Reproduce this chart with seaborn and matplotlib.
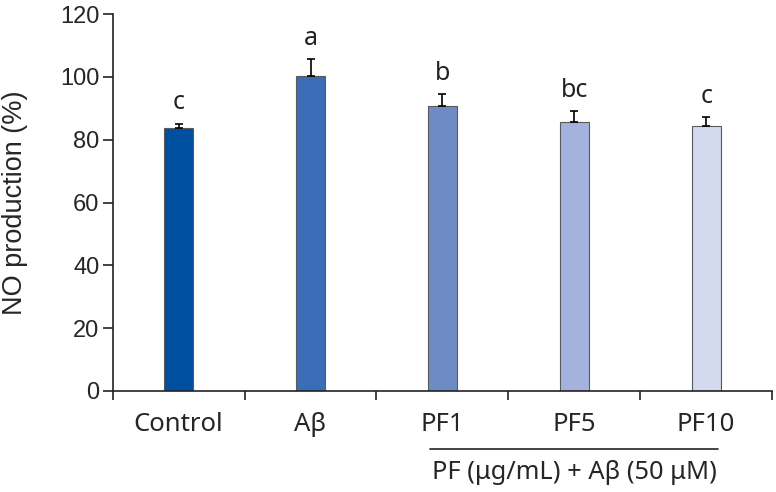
import matplotlib
matplotlib.use("Agg")
import matplotlib.pyplot as plt
import numpy as np
import pandas as pd
import seaborn as sns

# --------------------------------------------------------------------------- #
# Data
# --------------------------------------------------------------------------- #
groups = ["Control", "Aβ", "PF1", "PF5", "PF10"]
no_production = [83.8, 100.3, 90.7, 85.6, 84.4]
sem = [1.3, 5.3, 3.8, 3.4, 2.9]
letters = ["c", "a", "b", "bc", "c"]
bar_colors = ["#0050A0", "#3B6DB6", "#6E8BC6", "#A4B3DE", "#D3D9EE"]
y_ticks = [0, 20, 40, 60, 80, 100, 120]
group_label = "PF (μg/mL) + Aβ (50 μM)"

df = pd.DataFrame({"group": groups, "value": no_production})

# --------------------------------------------------------------------------- #
# Plot
# --------------------------------------------------------------------------- #
sns.set_style("ticks")
plt.rcParams["font.family"] = ["Liberation Sans", "DejaVu Sans"]
LABEL_FONT = ["Noto Sans", "DejaVu Sans"]
INK = "#222222"

fig = plt.figure(figsize=(7.76, 4.92), dpi=100)
ax = fig.add_axes([0.1452, 0.2053, 0.8498, 0.7662])

sns.barplot(
    data=df, x="group", y="value", hue="group", palette=bar_colors,
    saturation=1, width=0.22, edgecolor="#5a5a5a", linewidth=0.8,
    legend=False, ax=ax,
)

# upper-only error bars
x = np.arange(len(groups))
ax.errorbar(
    x, no_production, yerr=[np.zeros(len(sem)), sem], fmt="none",
    ecolor="black", elinewidth=1.2, capsize=2.8, capthick=1.2, zorder=3,
)

# significance letters
for xi, v, e, lab in zip(x, no_production, sem, letters):
    ax.text(xi, v + e + 2.6, lab, ha="center", va="bottom", fontsize=18,
            family=LABEL_FONT, color=INK)

ax.set_ylim(0, 120)
ax.set_yticks(y_ticks)
ax.set_xlim(-0.5, len(groups) - 0.5)
ax.set_ylabel("NO production (%)", fontsize=19.5)
ax.yaxis.set_label_coords(-0.1285, 0.5)
ax.set_xlabel("")

# category labels without tick marks, boundary ticks as minor ticks
ax.set_xticks(x)
ax.set_xticklabels(groups, family=LABEL_FONT, fontsize=18.5)
ax.tick_params(axis="x", which="major", length=0, pad=15)
ax.set_xticks(np.arange(-0.5, len(groups)), minor=True)
ax.tick_params(axis="x", which="minor", length=6.5, width=1.2, color=INK)
ax.tick_params(axis="y", labelsize=17, length=7.5, width=1.2, color=INK,
               pad=2)

sns.despine(ax=ax)
for side in ["left", "bottom"]:
    ax.spines[side].set_linewidth(1.2)
    ax.spines[side].set_color(INK)

# bracket line and group label under the PF bars
ax.plot([1.904, 4.086], [-0.154, -0.154], transform=ax.get_xaxis_transform(),
        color=INK, lw=1.2, clip_on=False)
ax.text(3.0, -0.2175, group_label, transform=ax.get_xaxis_transform(),
        ha="center", va="center", fontsize=18.3, family=LABEL_FONT)

fig.savefig("out.png", dpi=100)
plt.close(fig)
